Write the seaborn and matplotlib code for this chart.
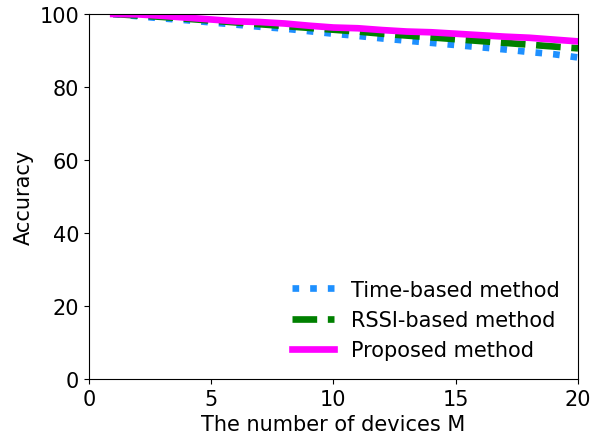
import matplotlib
matplotlib.use("Agg")
import matplotlib.pyplot as plt
import seaborn as sns
import pandas as pd

M = list(range(1, 21))
time_based = [100, 99.4, 98.8, 98.3, 97.7, 97.1, 96.5, 96.0, 95.3, 94.6,
              94.0, 93.3, 92.7, 92.1, 91.5, 90.9, 90.3, 89.6, 89.0, 88.1]
rssi_based = [100, 99.6, 99.2, 98.7, 98.2, 97.7, 97.2, 96.7, 96.2, 95.7,
              95.2, 94.6, 94.1, 93.6, 93.1, 92.6, 92.1, 91.6, 91.1, 90.6]
proposed = [100, 99.9, 99.5, 99.0, 98.5, 98.0, 97.8, 97.4, 96.8, 96.3,
            96.1, 95.6, 95.2, 95.0, 94.6, 94.2, 93.8, 93.5, 93.0, 92.5]
labels = ["Time-based method", "RSSI-based method", "Proposed method"]

sns.set_style("ticks")
plt.rcParams['font.family'] = ['DejaVu Sans']
plt.rcParams.update({
    "text.color": "black", "axes.labelcolor": "black",
    "xtick.color": "black", "ytick.color": "black",
    "axes.edgecolor": "black",
    "lines.solid_capstyle": "projecting",
    "lines.dash_capstyle": "butt",
})

fig = plt.figure(figsize=(6.04, 4.35), dpi=100)
ax = fig.add_axes([0.147, 0.126, 0.81, 0.8395])

series = [time_based, rssi_based, proposed]
styles = [(":", "#1e90ff", 4.8), ("--", "green", 4.8), ("-", "magenta", 4.8)]
for vals, lab, (ls, c, lw) in zip(series, labels, styles):
    df = pd.DataFrame({"M": M, "acc": vals})
    sns.lineplot(data=df, x="M", y="acc", ax=ax, linestyle=ls, color=c,
                 linewidth=lw, legend=False)

ax.set_xlim(0, 20)
ax.set_ylim(0, 100)
ax.set_xticks([0, 5, 10, 15, 20])
ax.set_yticks([0, 20, 40, 60, 80, 100])
ax.tick_params(labelsize=15, direction="out", length=3.5, width=0.8)
ax.set_xlabel("The number of devices M", fontsize=15)
ax.set_ylabel("Accuracy", fontsize=15)
for s in ax.spines.values():
    s.set_linewidth(0.8)
leg = ax.legend(ax.get_lines(), labels, loc="lower right", frameon=False,
                fontsize=15, handlelength=2.0)
fig.savefig("out.png", dpi=100)
